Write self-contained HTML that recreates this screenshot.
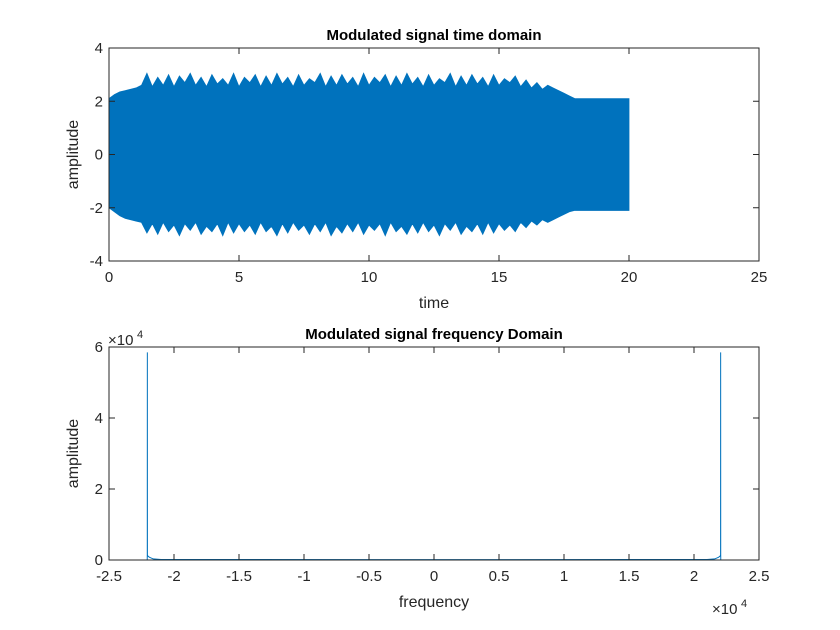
<!DOCTYPE html>
<html><head><meta charset="utf-8"><style>
body{margin:0;background:#fff;}
svg{display:block;font-family:"Liberation Sans",Arial,sans-serif;}
</style></head><body>
<svg id="fig" width="840" height="630" viewBox="0 0 840 630">
<rect width="840" height="630" fill="#fff"/>
<g id="top"></g>
<g id="bot"></g>
</svg>
<script>
// ---- time domain data (envelope peaks, evenly spaced from tStart to tEnd) ----
const tStart = 0, tEnd = 20;
const upperEnv = [2.1,2.25,2.35,2.4,2.45,2.5,
2.6,3.05,2.55,2.9,2.6,3.0,2.55,2.95,2.7,3.05,2.6,2.9,2.55,3.0,2.65,2.85,2.6,3.05,2.55,2.9,
2.7,3.0,2.55,2.95,2.6,3.05,2.65,2.9,2.55,3.0,2.6,2.85,2.7,3.05,2.55,2.95,2.6,3.0,2.65,2.9,
2.55,3.05,2.6,2.9,2.7,3.0,2.55,2.95,2.6,3.05,2.65,2.9,2.55,3.0,2.6,2.85,2.7,3.05,2.55,2.95,
2.6,3.0,2.65,2.9,2.55,3.0,2.6,2.85,2.7,2.95,2.55,2.8,2.5,2.7,2.45,2.6,
2.5,2.4,2.3,2.2,2.1,2.1,2.1,2.1,2.1,2.1,2.1,2.1,2.1,2.1,2.1];
const lowerEnv = [-2.0,-2.15,-2.3,-2.4,-2.45,-2.5,
-2.55,-2.95,-2.6,-3.0,-2.55,-2.9,-2.65,-3.05,-2.6,-2.85,-2.55,-3.0,-2.7,-2.9,-2.6,-3.05,-2.55,-2.95,-2.6,-2.9,
-2.65,-3.0,-2.55,-2.9,-2.7,-3.05,-2.6,-2.95,-2.55,-2.85,-2.65,-3.0,-2.6,-2.9,-2.55,-3.05,-2.7,-2.95,-2.6,-2.9,
-2.55,-3.0,-2.65,-2.85,-2.6,-3.05,-2.55,-2.9,-2.7,-3.0,-2.6,-2.95,-2.55,-2.9,-2.65,-3.05,-2.6,-2.85,-2.55,-3.0,
-2.7,-2.9,-2.6,-3.0,-2.55,-2.95,-2.6,-2.85,-2.65,-2.9,-2.55,-2.75,-2.5,-2.65,-2.45,-2.55,
-2.45,-2.35,-2.25,-2.15,-2.1,-2.1,-2.1,-2.1,-2.1,-2.1,-2.1,-2.1,-2.1,-2.1,-2.1];
const topXTicks = [0,5,10,15,20,25];
const topYTicks = [-4,-2,0,2,4];
// ---- frequency domain data ----
const freqs = [-25000,-22060,-22055,-22050,-22045,-22030,-21900,-21600,-21000,0,21000,21600,21900,22030,22045,22050,22055,22060,25000];
const mags  = [0,0,1500,58500,1500,1200,800,300,150,100,150,300,800,1200,1500,58500,1500,0,0];
const botXTicks = [-2.5,-2,-1.5,-1,-0.5,0,0.5,1,1.5,2,2.5];
const botYTicks = [0,2,4,6];

const NS="http://www.w3.org/2000/svg";
function mk(parent,tag,attrs,text){const e=document.createElementNS(NS,tag);for(const k in attrs)e.setAttribute(k,attrs[k]);if(text!==undefined)e.textContent=text;parent.appendChild(e);return e;}
const L=109,R=759,BLUE="#0072bd",AX="#262626";

function axes(g,T,B,xmin,xmax,ymin,ymax,xt,yt,xlab,ylab,title,xfmt,yfmt){
  const sx=v=>L+(v-xmin)/(xmax-xmin)*(R-L), sy=v=>B-(v-ymin)/(ymax-ymin)*(B-T);
  return {sx,sy,draw(){
    const box=mk(g,'rect',{x:L,y:T,width:R-L,height:B-T,fill:'none',stroke:AX,'stroke-width':1});
    
    xt.forEach(v=>{const x=sx(v);
      mk(g,'line',{x1:x,y1:B,x2:x,y2:B-6,stroke:AX});mk(g,'line',{x1:x,y1:T,x2:x,y2:T+6,stroke:AX});
      const t=mk(g,'text',{x:x,y:B+21,'text-anchor':'middle','font-size':15,fill:AX},xfmt(v));
      });
    yt.forEach(v=>{const y=sy(v);
      mk(g,'line',{x1:L,y1:y,x2:L+6,y2:y,stroke:AX});mk(g,'line',{x1:R,y1:y,x2:R-6,y2:y,stroke:AX});
      const t=mk(g,'text',{x:L-6,y:y+5,'text-anchor':'end','font-size':15,fill:AX},yfmt(v));
      });
    const xl=mk(g,'text',{x:(L+R)/2,y:B+47,'text-anchor':'middle','font-size':16,fill:AX},xlab);
    
    const yl=mk(g,'text',{x:0,y:0,'text-anchor':'middle','font-size':16,fill:AX,transform:`translate(78,${(T+B)/2}) rotate(-90)`},ylab);
    
    const ti=mk(g,'text',{x:(L+R)/2,y:T-8,'text-anchor':'middle','font-size':15,'font-weight':'bold',fill:'#000'},title);
    
  }};
}

// top
const gt=document.getElementById('top');
const A=axes(gt,48,261,0,25,-4,4,topXTicks,topYTicks,'time','amplitude','Modulated signal time domain',String,String);
const tAt=i=>tStart+i*(tEnd-tStart)/(upperEnv.length-1);
let pts=[];
upperEnv.forEach((v,i)=>pts.push(A.sx(tAt(i))+','+A.sy(v)));
for(let i=lowerEnv.length-1;i>=0;i--)pts.push(A.sx(tStart+i*(tEnd-tStart)/(lowerEnv.length-1))+','+A.sy(lowerEnv[i]));
const poly=mk(gt,'polygon',{points:pts.join(' '),fill:BLUE,stroke:BLUE,'stroke-width':0.8});

A.draw();

// bottom
const gb=document.getElementById('bot');
const B2=axes(gb,347,560,-25000,25000,0,60000,botXTicks.map(v=>v*1e4),botYTicks.map(v=>v*1e4),'frequency','amplitude','Modulated signal frequency Domain',v=>String(v/1e4),v=>String(v/1e4));
const line=mk(gb,'polyline',{points:freqs.map((f,i)=>B2.sx(f)+','+B2.sy(mags[i])).join(' '),fill:'none',stroke:BLUE,'stroke-width':1});

B2.draw();
const e1=mk(gb,'text',{x:108,y:345,'font-size':15,fill:AX},'\u00d710');

mk(gb,'text',{x:137,y:338,'font-size':11,fill:AX},'4');
const e2=mk(gb,'text',{x:712,y:614,'font-size':15,fill:AX},'\u00d710');

mk(gb,'text',{x:741,y:607,'font-size':11,fill:AX},'4');
</script>
</body></html>
